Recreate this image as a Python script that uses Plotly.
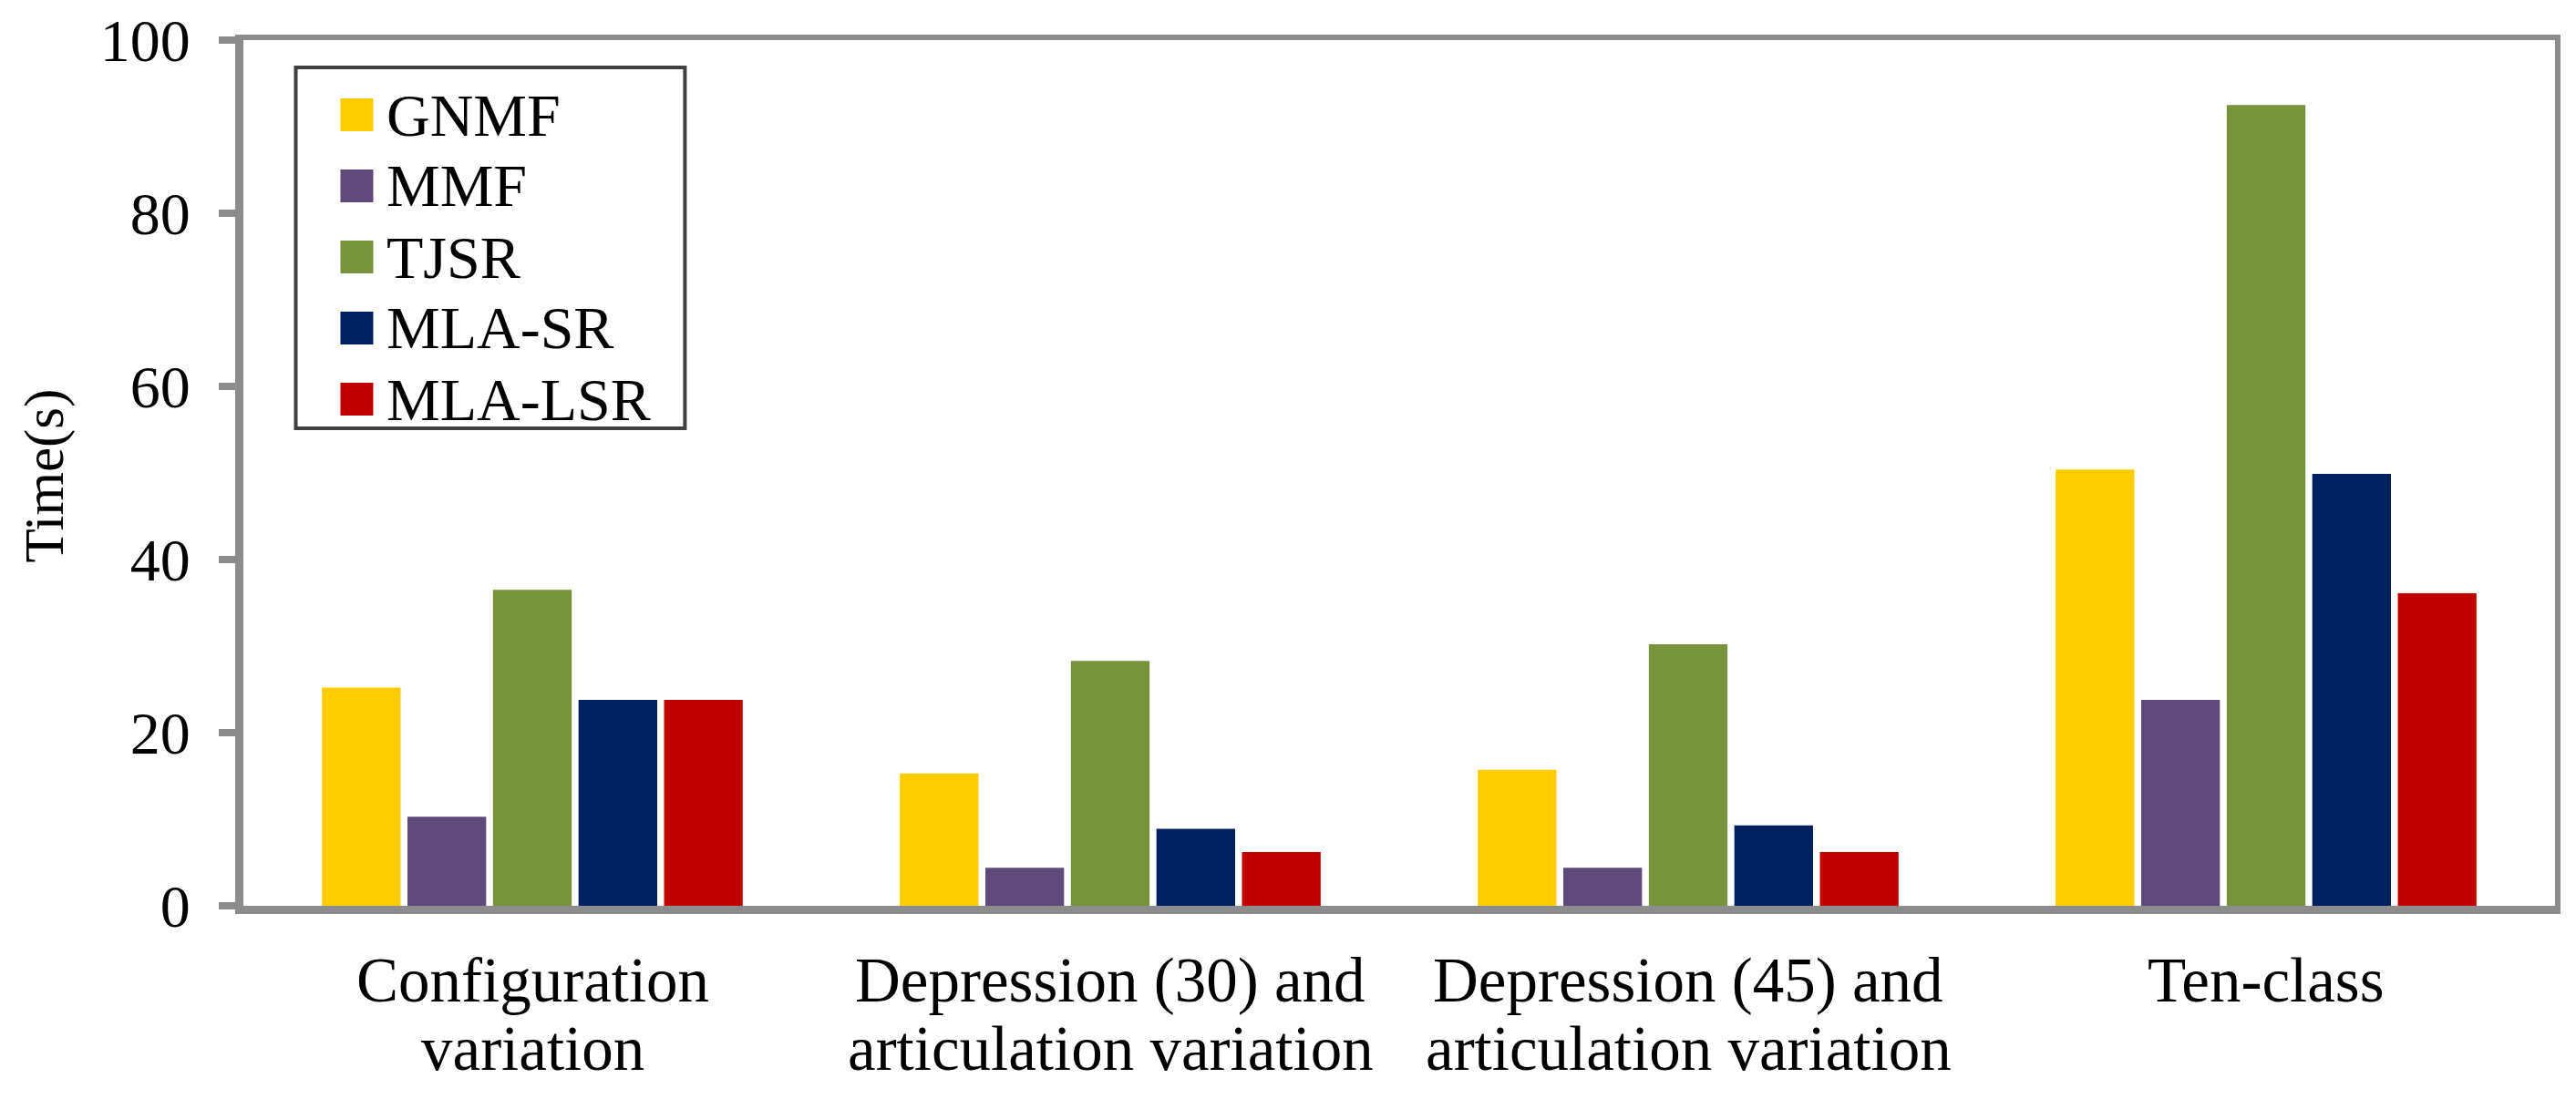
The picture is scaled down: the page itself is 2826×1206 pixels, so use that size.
import plotly.graph_objects as go

categories = ["Configuration<br>variation",
              "Depression (30) and<br>articulation variation",
              "Depression (45) and<br>articulation variation",
              "Ten-class"]
series_names = ["GNMF", "MMF", "TJSR", "MLA-SR", "MLA-LSR"]
gnmf = [25.2, 15.3, 15.7, 50.4]
mmf = [10.3, 4.4, 4.4, 23.8]
tjsr = [36.5, 28.3, 30.2, 92.5]
mla_sr = [23.8, 8.9, 9.3, 49.9]
mla_lsr = [23.8, 6.2, 6.2, 36.1]
y_ticks = [0, 20, 40, 60, 80, 100]
y_title = "Time(s)"

series_values = [gnmf, mmf, tjsr, mla_sr, mla_lsr]
colors = ["#FFCC00", "#604A7B", "#77933C", "#002060", "#C00000"]

OFF = 8  # default page body margin
W, H = 2826 - OFF, 1206 - OFF
# plot area in page pixels
P_LEFT, P_RIGHT, P_TOP, P_BOTTOM = 266.5, 2803, 44, 994
L = P_LEFT - OFF
R = W - (P_RIGHT - OFF)
T = P_TOP - OFF
B = H - (P_BOTTOM - OFF)
PW, PH = W - L - R, H - T - B
FONT = "Liberation Serif"
AX = "#8C8C8C"

def px_x(px):
    return (px - OFF - L) / PW

def px_y(py):
    return (H - B - (py - OFF)) / PH

fig = go.Figure()
xs = list(range(len(categories)))
for name, vals, col in zip(series_names, series_values, colors):
    fig.add_trace(go.Bar(x=xs, y=vals, name=name, marker=dict(color=col, line=dict(width=0)),
                         showlegend=False))

fig.update_layout(
    width=W, height=H,
    margin=dict(l=L, r=R, t=T, b=B, pad=0, autoexpand=False),
    paper_bgcolor="white", plot_bgcolor="white",
    barmode="group", bargap=0.26, bargroupgap=0.08,
    font=dict(family=FONT, color="black"),
    xaxis=dict(range=[-0.5, len(categories) - 0.5], showticklabels=False, ticks="",
               showgrid=False, zeroline=False, showline=True, linecolor=AX, linewidth=9,
               automargin=False),
    yaxis=dict(range=[0, 100], tickvals=y_ticks, showgrid=False, zeroline=False,
               showline=True, linecolor=AX, linewidth=9, ticks="outside", ticklen=18,
               tickwidth=8, tickcolor=AX, tickfont=dict(size=66, family=FONT, color="black"),
               ticklabelstandoff=18, ticklabeloverflow="allow", automargin=False),
)

shapes = []
annotations = []
# top and right borders
shapes.append(dict(type="line", xref="paper", yref="paper", x0=px_x(P_LEFT - 9), x1=px_x(P_RIGHT + 6),
                   y0=px_y(P_TOP - 3), y1=px_y(P_TOP - 3), line=dict(color=AX, width=6)))
shapes.append(dict(type="line", xref="paper", yref="paper", x0=px_x(P_RIGHT + 3), x1=px_x(P_RIGHT + 3),
                   y0=px_y(P_TOP - 6), y1=px_y(P_BOTTOM + 9), line=dict(color=AX, width=6)))

# legend box
shapes.append(dict(type="rect", xref="paper", yref="paper", x0=px_x(324), x1=px_x(751),
                   y0=px_y(470), y1=px_y(74), line=dict(color="#404040", width=4),
                   fillcolor="white", layer="above"))
sw_top = 108
step = 78
for i, (name, col) in enumerate(zip(series_names, colors)):
    t0 = sw_top + i * step
    shapes.append(dict(type="rect", xref="paper", yref="paper", x0=px_x(373), x1=px_x(409),
                       y0=px_y(t0 + 36), y1=px_y(t0), line=dict(width=0), fillcolor=col,
                       layer="above"))
    annotations.append(dict(xref="paper", yref="paper", x=px_x(422), y=px_y(t0 + 18),
                            xanchor="left", yanchor="middle", text=name, showarrow=False,
                            font=dict(size=66, family=FONT, color="black")))

# category labels
line_centers = [1076, 1151]
for i, cat in enumerate(categories):
    for j, line in enumerate(cat.split("<br>")):
        annotations.append(dict(xref="x", yref="paper", x=i, y=px_y(line_centers[j]),
                                xanchor="center", yanchor="middle", text=line, showarrow=False,
                                font=dict(size=69, family=FONT, color="black")))

# y title
annotations.append(dict(xref="paper", yref="paper", x=px_x(48), y=px_y(522),
                        xanchor="center", yanchor="middle", text=y_title, textangle=-90,
                        showarrow=False, font=dict(size=61, family=FONT, color="black")))

fig.update_layout(shapes=shapes, annotations=annotations)
fig.write_html("out.html")
